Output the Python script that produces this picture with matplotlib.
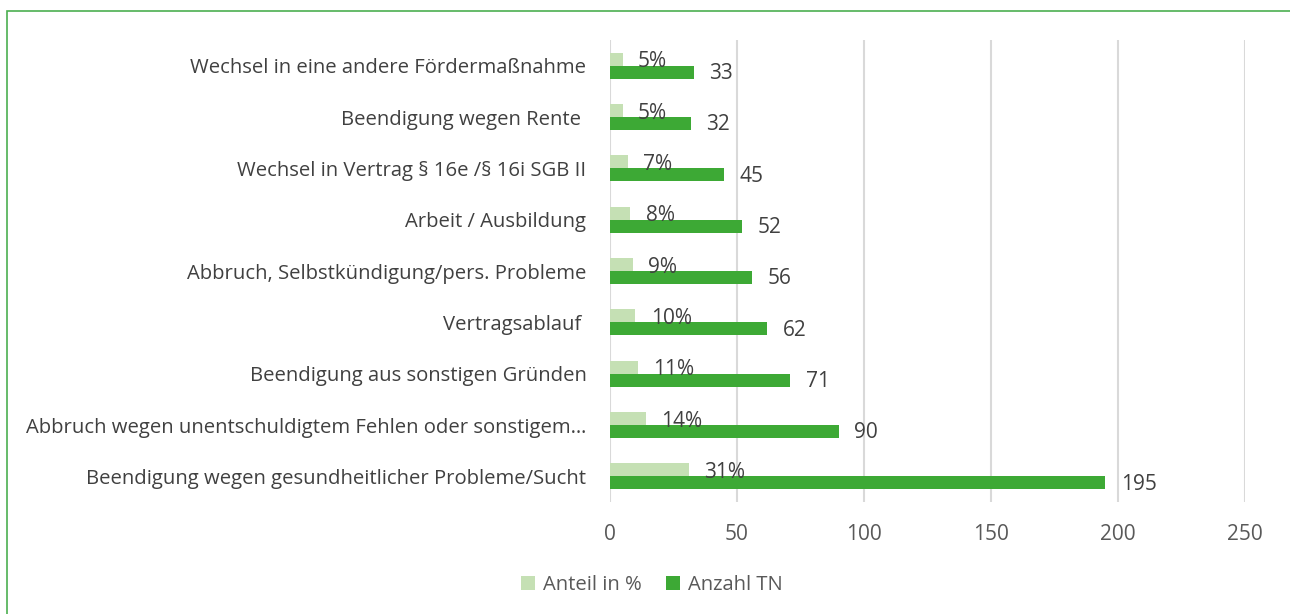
import matplotlib.pyplot as plt
import numpy as np
from matplotlib.patches import Rectangle

plt.rcParams['font.family'] = ['Open Sans', 'DejaVu Sans']

# data, top to bottom as shown
categories = [
    "Wechsel in eine andere Fördermaßnahme",
    "Beendigung wegen Rente ",
    "Wechsel in Vertrag § 16e /§ 16i SGB II",
    "Arbeit / Ausbildung",
    "Abbruch, Selbstkündigung/pers. Probleme",
    "Vertragsablauf ",
    "Beendigung aus sonstigen Gründen",
    "Abbruch wegen unentschuldigtem Fehlen oder sonstigem…",
    "Beendigung wegen gesundheitlicher Probleme/Sucht",
]
anteil = [5, 5, 7, 8, 9, 10, 11, 14, 31]
anzahl = [33, 32, 45, 52, 56, 62, 71, 90, 195]
xticks = [0, 50, 100, 150, 200, 250]

light = '#C5E0B4'
green = '#3DA935'
text_col = '#404040'

fig = plt.figure(figsize=(12.9, 6.14), dpi=100)
ax = fig.add_axes([610 / 1290, 1 - 502 / 614, 635 / 1290, 462 / 614])

y = np.arange(len(categories))
h = 0.255
ax.barh(y - h / 2, anteil, height=h, color=light, label='Anteil in %', zorder=3)
ax.barh(y + h / 2, anzahl, height=h, color=green, label='Anzahl TN', zorder=3)

for yi, v in zip(y, anteil):
    ax.annotate(f'{v}%', (v, yi - h / 2), xytext=(11, -2), textcoords='offset points',
                ha='left', va='center', fontsize=15, color=text_col, zorder=4)
for yi, v in zip(y, anzahl):
    ax.annotate(f'{v}', (v, yi + h / 2), xytext=(11, -1), textcoords='offset points',
                ha='left', va='center', fontsize=15, color=text_col, zorder=4)

ax.set_ylim(len(categories) - 0.5, -0.5)
ax.set_xlim(0, 250)
ax.set_xticks(xticks)
ax.set_yticks(y)
ax.set_yticklabels(categories, color=text_col, fontsize=14.6)
ax.tick_params(axis='both', length=0)
ax.tick_params(axis='x', labelcolor='#595959', labelsize=15, pad=16)
ax.tick_params(axis='y', pad=17)
ax.xaxis.grid(True, color='#D9D9D9', linewidth=1.5, zorder=0)
for s in ax.spines.values():
    s.set_visible(False)

ax.legend(loc='center', bbox_to_anchor=(652 / 1290, 1 - 585 / 614),
          bbox_transform=fig.transFigure, ncol=2, frameon=False, fontsize=14.6,
          labelcolor='#595959', handlelength=0.7, handleheight=0.7,
          handletextpad=0.4, columnspacing=1.2)

# outer border of the chart
fig.patches.append(Rectangle((7 / 1290, -0.1), 1.2, 1 - 11 / 614 + 0.1,
                             transform=fig.transFigure, fill=False,
                             edgecolor='#4CAF50', linewidth=1.2))

fig.savefig('out.png', dpi=100)
